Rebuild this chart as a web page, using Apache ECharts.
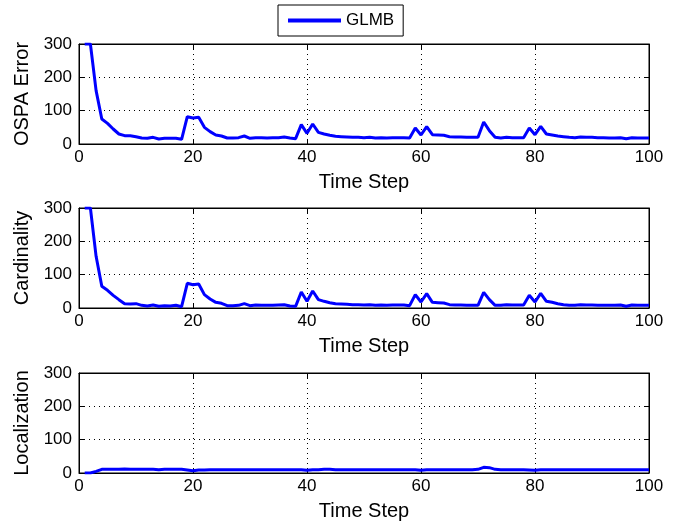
<!DOCTYPE html>
<html><head><meta charset="utf-8">
<script src="https://cdn.jsdelivr.net/npm/echarts@6/dist/echarts.min.js"></script>
<style>html,body{margin:0;padding:0;background:#fff}#c{width:688px;height:522px}</style>
</head><body><div id="c"></div>
<script>
const timeSteps = Array.from({length:100}, (_, i) => i + 1);
const ospaError = [300,300,160,75,62,45,30,25,25,22, 18,17,20,15,17,17,17,14,82,78, 80,50,37,27,24,18,18,19,24,17, 19,19,18,19,19,21,18,16,58,32, 60,35,30,26,23,22,21,20,20,19, 20,18,19,18,19,19,19,18,48,27, 52,28,27,26,22,21,21,20,20,20, 66,40,20,18,20,19,19,19,48,28, 53,30,27,24,22,20,19,21,20,20, 19,19,18,18,19,16,19,18,18,18];
const cardinality = [300,300,155,65,53,38,25,13,12,13, 8,6,9,5,7,6,8,4,74,70, 72,40,27,17,14,7,7,8,13,7, 9,8,8,8,9,10,6,5,48,20, 51,25,20,16,13,12,11,10,10,9, 10,8,9,8,9,9,9,7,40,18, 43,17,16,15,10,9,9,8,8,8, 47,25,8,8,10,9,9,9,38,18, 44,20,17,13,10,8,8,10,9,9, 8,8,8,8,9,5,9,8,8,8];
const localization = [0,0,5,11,11,11,11,12,11,11, 11,11,11,10,11,11,11,11,9,7, 9,9,10,10,10,10,10,10,10,10, 10,10,10,10,10,10,10,10,10,8, 10,10,11,11,10,10,10,10,10,10, 10,10,10,10,10,10,10,10,10,8, 10,10,10,10,10,10,10,10,10,11, 17,16,11,10,10,10,10,10,9,8, 10,10,10,10,10,10,10,10,10,10, 10,10,10,10,10,10,10,10,10,10];
const yNames = ['OSPA Error','Cardinality','Localization'];
const xTicks = [0,20,40,60,80,100];
const yTicks = [0,100,200,300];
const seriesName = 'GLMB';

const font = 'Liberation Sans, Arial, sans-serif';
const tops = [44, 208, 373];
const grids = [], xAxes = [], yAxes = [], series = [];
const datasets = [ospaError, cardinality, localization];
tops.forEach((t, i) => {
  grids.push({left: 79, width: 570, top: t, height: 100, show: true, borderColor: '#000', borderWidth: 1, backgroundColor: '#fff'});
  const common = {min: xTicks[0], max: xTicks[xTicks.length-1], interval: 20};
  xAxes.push(Object.assign({type: 'value', gridIndex: i, position: 'bottom',
    name: 'Time Step', nameLocation: 'middle', nameGap: 28,
    nameTextStyle: {fontFamily: font, fontSize: 20, color: '#000'},
    axisLine: {show: true, onZero: false, lineStyle: {color: '#000', width: 1}},
    axisTick: {show: true, inside: true, length: 5, lineStyle: {color: '#000'}},
    axisLabel: {fontFamily: font, fontSize: 17, color: '#000', margin: 5},
    splitLine: {show: true, lineStyle: {color: '#000', type: [1, 4], width: 1}}}, common));
  xAxes.push(Object.assign({type: 'value', gridIndex: i, position: 'top',
    axisLine: {show: true, onZero: false, lineStyle: {color: '#000'}},
    axisTick: {show: true, inside: true, length: 5, lineStyle: {color: '#000'}},
    axisLabel: {show: false}, splitLine: {show: false}}, common));
  const ycommon = {min: 0, max: 300, interval: 100};
  yAxes.push(Object.assign({type: 'value', gridIndex: i, position: 'left',
    name: yNames[i], nameLocation: 'middle', nameGap: 45, nameRotate: 90,
    nameTextStyle: {fontFamily: font, fontSize: 20, color: '#000'},
    axisLine: {show: true, onZero: false, lineStyle: {color: '#000'}},
    axisTick: {show: true, inside: true, length: 5, lineStyle: {color: '#000'}},
    axisLabel: {fontFamily: font, fontSize: 17, color: '#000', margin: 7,
      formatter: v => yTicks.includes(v) ? String(v) : ''},
    splitLine: {show: true, lineStyle: {color: '#000', type: [1, 4], width: 1}}}, ycommon));
  yAxes.push(Object.assign({type: 'value', gridIndex: i, position: 'right',
    axisLine: {show: true, onZero: false, lineStyle: {color: '#000'}},
    axisTick: {show: true, inside: true, length: 5, lineStyle: {color: '#000'}},
    axisLabel: {show: false}, splitLine: {show: false}}, ycommon));
  series.push({type: 'line', name: seriesName, xAxisIndex: 2*i, yAxisIndex: 2*i,
    data: timeSteps.map((x, k) => [x, datasets[i][k]]),
    showSymbol: false, symbol: 'none', clip: true,
    lineStyle: {color: '#0000ff', width: 3}, itemStyle: {color: '#0000ff'}});
});

const chart = echarts.init(document.getElementById('c'), null, {renderer: 'canvas'});
chart.setOption({
  animation: false,
  backgroundColor: '#fff',
  legend: {show: true, data: [seriesName], left: 278, top: 5, padding: [7, 9, 7, 10],
    borderColor: '#000', borderWidth: 1, backgroundColor: '#fff',
    itemWidth: 53, itemHeight: 4, itemGap: 7, icon: 'rect',
    textStyle: {fontFamily: font, fontSize: 17, color: '#000'}},
  grid: grids, xAxis: xAxes, yAxis: yAxes, series: series
});
</script></body></html>
